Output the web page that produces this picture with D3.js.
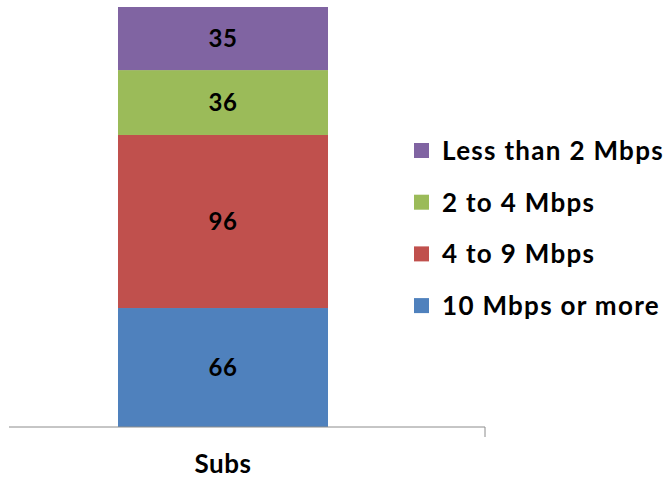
<!DOCTYPE html>
<html>
<head>
<meta charset="utf-8">
<script src="https://cdn.jsdelivr.net/npm/d3@7"></script>
<style>
	body { margin: 0; background: #fff; }
	text { font-family: Lato, "Open Sans", sans-serif; font-weight: bold; fill: #000; }
</style>
</head>
<body>
<svg id="chart" width="671" height="479"></svg>
<script>
const Width = 671;
const Height = 479;

const categories = ["Subs"];
const seriesNames = ["10 Mbps or more", "4 to 9 Mbps", "2 to 4 Mbps", "Less than 2 Mbps"];
const seriesValues = [66, 96, 36, 35];
const seriesColors = ["#4F81BD", "#C0504D", "#9BBB59", "#8064A2"];

const chart = d3.select("#chart");

// the bar sits centered in 9..437, the axis line runs on to 485 where it ends in a tick
const plot = { left: 9, right: 437, axisEnd: 485, top: 7, bottom: 427 };

const total = d3.sum(seriesValues);
const y = d3.scaleLinear().domain([0, total]).range([plot.bottom, plot.top]);
const x = d3.scaleBand().domain(categories).range([plot.left, plot.right]).paddingInner(0).paddingOuter(0.519);

// stack the series into one column
const row = { cat: categories[0] };
seriesNames.forEach((n, i) => row[n] = seriesValues[i]);
const stacked = d3.stack().keys(seriesNames)([row]);

const layers = chart.selectAll("g.layer").data(stacked).enter().append("g")
	.attr("class", "layer")
	.attr("fill", (d, i) => seriesColors[i]);

layers.selectAll("rect").data(d => d).enter().append("rect")
	.attr("x", d => x(d.data.cat))
	.attr("width", x.bandwidth())
	.attr("y", d => y(d[1]))
	.attr("height", d => y(d[0]) - y(d[1]));

layers.selectAll("text").data(d => d).enter().append("text")
	.attr("x", d => x(d.data.cat) + x.bandwidth() / 2)
	.attr("y", d => (y(d[0]) + y(d[1])) / 2)
	.attr("dy", "0.36em")
	.attr("text-anchor", "middle")
	.style("font-size", "24px")
	.style("letter-spacing", "0.5px")
	.text(d => d[1] - d[0]);

// x axis
const xaxis = chart.append("g").attr("transform", `translate(0,${plot.bottom})`)
	.call(d3.axisBottom(x).tickSize(0).tickPadding(28));
xaxis.select(".domain").attr("stroke", "#8c8c8c").attr("d", `M${plot.left},0H${plot.axisEnd}V10`);
xaxis.selectAll("text").style("font-size", "26px").style("font-family", null).style("letter-spacing", "0.5px");

// legend, top series first
const legend = chart.append("g").attr("transform", "translate(414,0)");
const items = legend.selectAll("g").data(seriesNames.slice().reverse()).enter().append("g")
	.attr("transform", (d, i) => `translate(0,${150.5 + i * 51.7})`);
items.append("rect")
	.attr("y", -7.5).attr("width", 15).attr("height", 15)
	.attr("fill", d => seriesColors[seriesNames.indexOf(d)]);
items.append("text")
	.attr("x", 28).attr("dy", "0.36em")
	.style("font-size", "26px")
	.style("letter-spacing", "1.3px")
	.text(d => d);
</script>
</body>
</html>
